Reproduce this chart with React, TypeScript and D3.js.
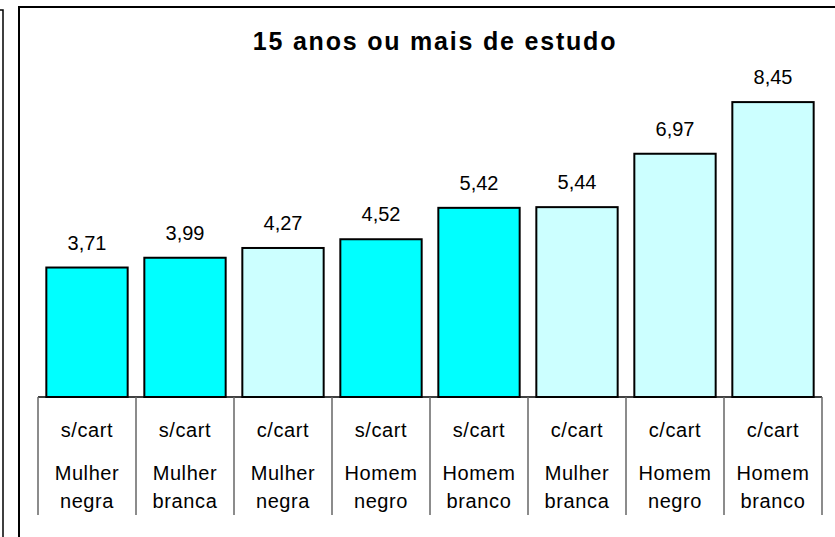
import * as d3 from 'd3'

const contracts = ['s/cart', 's/cart', 'c/cart', 's/cart', 's/cart', 'c/cart', 'c/cart', 'c/cart']
const sexes = ['Mulher', 'Mulher', 'Mulher', 'Homem', 'Homem', 'Mulher', 'Homem', 'Homem']
const races = ['negra', 'branca', 'negra', 'negro', 'branco', 'branca', 'negro', 'branco']
const values = [3.71, 3.99, 4.27, 4.52, 5.42, 5.44, 6.97, 8.45]
const title = '15 anos ou mais de estudo'

const W = 835
const H = 537
const FONT = '"Liberation Sans", Arial, sans-serif'

const fmt = d3.formatLocale({ decimal: ',', thousands: '.', grouping: [3], currency: ['R$', ''] }).format('.2f')

export default function App() {
  const idx = d3.range(values.length)
  const x = d3.scaleBand<number>().domain(idx).range([38, 822]).paddingInner(0.17).paddingOuter(0.085)
  const y = d3.scaleLinear().domain([0, 10]).range([397, 48])
  const color = d3.scaleOrdinal<string, string>().domain(['s/cart', 'c/cart']).range(['#00FFFF', '#CCFFFF'])
  const step = x.step()
  const axisLeft = x.range()[0]
  const axisBottom = 515

  return (
    <svg width={W} height={H} style={{ position: 'absolute', left: 0, top: 0, background: '#fff' }} fontFamily={FONT}>
      {/* edge of the neighbouring chart */}
      <path d={`M0,10H3V${H}`} fill="none" stroke="#000" strokeWidth={1.5} />
      {/* chart frame */}
      <path d={`M19,${H}V7H${W}`} fill="none" stroke="#000" strokeWidth={2} />

      <text x={435} y={50} textAnchor="middle" fontSize={25} fontWeight="bold" letterSpacing={1.8}>
        {title}
      </text>

      {idx.map((i) => (
        <g key={i}>
          <rect
            x={x(i)}
            y={y(values[i])}
            width={x.bandwidth()}
            height={y(0) - y(values[i])}
            fill={color(contracts[i])}
            stroke="#000"
            strokeWidth={2}
          />
          <text x={x(i)! + x.bandwidth() / 2} y={y(values[i]) - 18} textAnchor="middle" fontSize={20}>
            {fmt(values[i])}
          </text>
        </g>
      ))}

      {/* multi-level category axis */}
      <line x1={axisLeft} x2={axisLeft + step * values.length} y1={397} y2={397} stroke="#000" strokeWidth={1.5} />
      {d3.range(values.length + 1).map((k) => (
        <line key={k} x1={axisLeft + k * step} x2={axisLeft + k * step} y1={397} y2={axisBottom} stroke="#666" strokeWidth={1.5} />
      ))}
      {idx.map((i) => {
        const cx = axisLeft + (i + 0.5) * step
        return (
          <g key={`c${i}`} fontSize={20} textAnchor="middle" letterSpacing={0.6}>
            <text x={cx} y={437}>{contracts[i]}</text>
            <text x={cx} y={480}>{sexes[i]}</text>
            <text x={cx} y={508}>{races[i]}</text>
          </g>
        )
      })}
    </svg>
  )
}
